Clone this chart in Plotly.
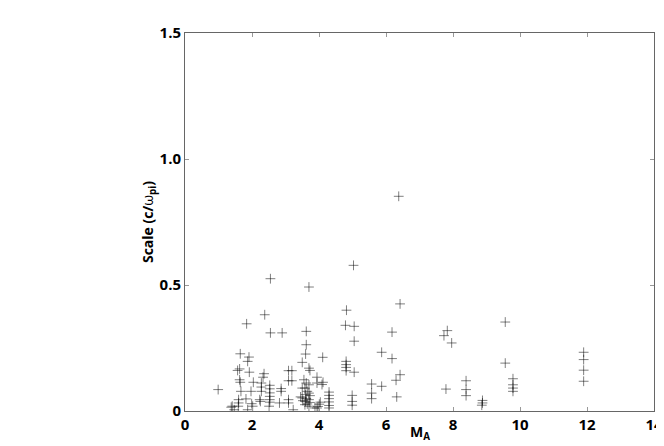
import plotly.graph_objects as go

# M_A values (x) and scale values (y)
mach = [
    0.99,
    1.38, 1.41, 1.47,
    1.57, 1.63, 1.65, 1.63, 1.65, 1.67, 1.60, 1.60, 1.59,
    1.84, 1.87, 1.91, 1.92, 1.82, 1.87, 1.97,
    1.99, 2.02, 2.04,
    2.23, 2.25, 2.28, 2.28, 2.28,
    2.36, 2.33, 2.38,
    2.55, 2.55, 2.53, 2.53, 2.53, 2.53, 2.53, 2.53, 2.51,
    2.90, 2.87, 2.87, 2.82,
    3.09, 3.19, 3.09, 3.19, 3.09, 3.09, 3.23,
    3.62, 3.62, 3.60, 3.50, 3.70, 3.73, 3.55, 3.62, 3.70, 3.70,
    3.50, 3.58, 3.65, 3.70, 3.60, 3.73, 3.50, 3.62, 3.70, 3.52, 3.60, 3.73, 3.65, 3.58, 3.70, 3.45,
    3.88, 3.94, 3.97, 4.01, 4.04,
    3.94, 3.94, 4.12, 4.09, 4.11,
    4.30, 4.30, 4.30, 4.30, 4.30, 4.30,
    4.82, 4.79, 4.81, 4.81, 4.81, 4.81,
    5.05, 5.05, 5.05, 5.03, 4.99, 4.99, 4.99,
    5.57, 5.57, 5.57,
    5.87, 5.87,
    6.18, 6.18, 6.42, 6.30, 6.32, 6.38, 6.42,
    7.83, 7.73, 7.96, 7.79,
    8.39, 8.39, 8.39,
    8.88, 8.88, 8.86,
    9.56, 9.56, 9.79, 9.79, 9.79, 9.79,
    11.9, 11.9, 11.9, 11.9,
]
scale = [
    0.085,
    0.015, 0.019, 0.005,
    0.161, 0.167, 0.227, 0.124, 0.114, 0.078, 0.045, 0.032, 0.019,
    0.346, 0.197, 0.214, 0.154, 0.048, 0.005, 0.078,
    0.029, 0.019, 0.114,
    0.045, 0.038, 0.111, 0.095, 0.078,
    0.148, 0.134, 0.382,
    0.525, 0.310, 0.102, 0.088, 0.072, 0.058, 0.045, 0.035, 0.019,
    0.310, 0.089, 0.078, 0.032,
    0.160, 0.160, 0.120, 0.120, 0.045, 0.032, 0.005,
    0.316, 0.263, 0.226, 0.193, 0.170, 0.161, 0.124, 0.111, 0.104, 0.492,
    0.091, 0.091, 0.078, 0.071, 0.065, 0.061, 0.052, 0.049, 0.045, 0.041, 0.038, 0.034, 0.028, 0.025, 0.019, 0.056,
    0.012, 0.012, 0.018, 0.027, 0.035,
    0.134, 0.111, 0.114, 0.105, 0.213,
    0.075, 0.062, 0.049, 0.036, 0.022, 0.012,
    0.400, 0.340, 0.197, 0.184, 0.173, 0.160,
    0.336, 0.277, 0.154, 0.578, 0.062, 0.038, 0.023,
    0.107, 0.071, 0.049,
    0.233, 0.098,
    0.313, 0.208, 0.144, 0.122, 0.056, 0.852, 0.425,
    0.319, 0.299, 0.270, 0.087,
    0.120, 0.085, 0.061,
    0.042, 0.032, 0.023,
    0.353, 0.190, 0.128, 0.104, 0.091, 0.078,
    0.233, 0.204, 0.162, 0.118,
]

x_ticks = [0, 2, 4, 6, 8, 10, 12, 14]
y_ticks = [0, 0.5, 1.0, 1.5]
y_tick_labels = ["0", "0.5", "1.0", "1.5"]
x_title = "M<sub>A</sub>"
y_title = "Scale (c/<span style=\"font-weight:normal\">ω</span><sub>pi</sub>)"

fig = go.Figure()
fig.add_trace(go.Scatter(
    x=mach, y=scale, mode="markers",
    marker=dict(symbol="cross-thin", size=7,
                line=dict(width=1, color="rgba(0,0,0,0.5)")),
    showlegend=False, hoverinfo="x+y",
))

axis_font = dict(family="Open Sans", size=15, color="black", weight="bold")
title_font = dict(family="Open Sans", size=14, color="black", weight="bold")
fig.update_layout(
    width=664, height=446,
    margin=dict(l=177, r=9, t=25, b=43),
    paper_bgcolor="white", plot_bgcolor="white",
    font=dict(family="Open Sans", color="black"),
)
fig.update_xaxes(
    range=[0, 14], tickvals=x_ticks, ticktext=[str(v) for v in x_ticks],
    showgrid=False, zeroline=False, showline=True, linecolor="#666", linewidth=1,
    mirror="ticks", ticks="inside", ticklen=4, tickcolor="#999",
    tickfont=axis_font,
)
fig.update_yaxes(
    range=[0, 1.5], tickvals=y_ticks, ticktext=y_tick_labels,
    showgrid=False, zeroline=False, showline=True, linecolor="#666", linewidth=1,
    mirror="ticks", ticks="inside", ticklen=4, tickcolor="#999",
    tickfont=axis_font,
    title=dict(text=y_title, font=title_font, standoff=2),
)
# x-axis title placed as an annotation so it sits close to the tick labels
fig.add_annotation(
    text=x_title, xref="paper", yref="paper", x=0.5, y=0,
    xanchor="center", yanchor="top", yshift=-9, showarrow=False,
    font=title_font,
)

fig.write_html("out.html")
